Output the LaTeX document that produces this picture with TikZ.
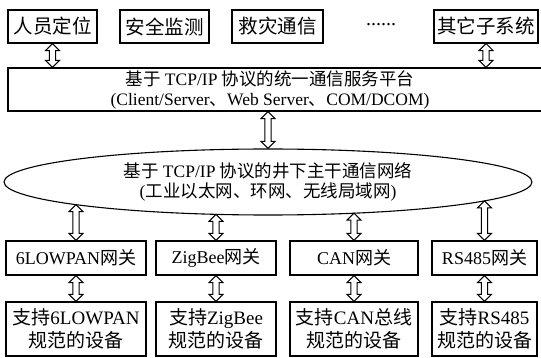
\documentclass[tikz,border=0pt]{standalone}
\usepackage{fontspec}
\setmainfont{Liberation Serif}
\newfontfamily\cjk{Noto Sans CJK SC}
\usetikzlibrary{arrows.meta,shapes.geometric,calc}
\begin{document}
\begin{tikzpicture}[x=1pt,y=-1pt,
  box/.style={draw, line width=1.1pt, inner sep=0pt, align=center},
  topbox/.style={box, minimum height=33pt, font=\fontsize{19.5}{22}\selectfont},
  gwbox/.style={box, minimum height=34pt, font=\fontsize{18}{21}\selectfont},
  devbox/.style={box, minimum height=54pt, font=\fontsize{19}{23}\selectfont},
  bigtext/.style={font=\fontsize{17.5}{20}\selectfont, align=center},
  dbl/.style={draw, line width=1pt, fill=white, line join=miter,
    to path={let \p1=(\tikztostart), \p2=(\tikztotarget) in
      (\x1,\y1) -- (\x1+7pt,\y1-7pt) -- (\x1+3.2pt,\y1-7pt) -- (\x1+3.2pt,\y2+7pt)
      -- (\x1+7pt,\y2+7pt) -- (\x1,\y2) -- (\x1-7pt,\y2+7pt) -- (\x1-3.2pt,\y2+7pt)
      -- (\x1-3.2pt,\y1-7pt) -- (\x1-7pt,\y1-7pt) -- cycle}}]
\useasboundingbox (0,0) rectangle (541,358);
% top row
\node[topbox, minimum width=89pt] (t1) at (52.5,26.5) {\cjk 人员定位};
\node[topbox, minimum width=89pt] (t2) at (164.5,26.5) {\cjk 安全监测};
\node[topbox, minimum width=91pt] (t3) at (277.5,26.5) {\cjk 救灾通信};
\node[font=\fontsize{20}{22}\selectfont] (dots) at (381,25) {......};
\node[topbox, minimum width=104pt] (t5) at (486,26.5) {\cjk 其它子系统};
% platform
\node[box, minimum width=537pt, minimum height=43pt] (plat) at (276.5,89.5) {};
\node[bigtext] (platt) at (270,90)
  {{\cjk 基于} TCP/IP {\cjk 协议的统一通信服务平台}\\(Client/Server{\cjk 、}Web Server{\cjk 、}COM/DCOM)};
% network ellipse
\node[ellipse, draw, line width=1.1pt, inner sep=0pt, minimum width=528pt, minimum height=66pt,
  bigtext] (net) at (268,182)
  {{\cjk 基于} TCP/IP {\cjk 协议的井下主干通信网络}\\({\cjk 工业以太网、环网、无线局域网})};
% gateways
\node[gwbox, minimum width=140pt] (g1) at (76,258) {6LOWPAN{\cjk 网关}};
\node[gwbox, minimum width=120pt] (g2) at (216,258) {ZigBee{\cjk 网关}};
\node[gwbox, minimum width=128pt] (g3) at (354,258) {CAN{\cjk 网关}};
\node[gwbox, minimum width=105pt] (g4) at (484.5,258) {RS485{\cjk 网关}};
% devices
\node[devbox, minimum width=140pt] (d1) at (76,329) {{\cjk 支持}6LOWPAN\\{\cjk 规范的设备}};
\node[devbox, minimum width=120pt] (d2) at (216,329) {{\cjk 支持}ZigBee\\{\cjk 规范的设备}};
\node[devbox, minimum width=128pt] (d3) at (354,329) {{\cjk 支持}CAN{\cjk 总线}\\{\cjk 规范的设备}};
\node[devbox, minimum width=105pt] (d4) at (484.5,329) {{\cjk 支持}RS485\\{\cjk 规范的设备}};
% ellipse boundary points
\coordinate (e1) at (76,204.6);
\coordinate (e2) at (216,214.4);
\coordinate (e3) at (354,213.2);
\coordinate (e4) at (484.5,200.9);
% arrows
\path[dbl] (t1.south) to (t1.south |- plat.north);
\path[dbl] (t5.south) to (t5.south |- plat.north);
\path[dbl] (plat.south -| net.north) to (net.north);
\path[dbl] (e1) to (g1.north);
\path[dbl] (e2) to (g2.north);
\path[dbl] (e3) to (g3.north);
\path[dbl] (e4) to (g4.north);
\path[dbl] (g1.south) to (d1.north);
\path[dbl] (g2.south) to (d2.north);
\path[dbl] (g3.south) to (d3.north);
\path[dbl] (g4.south) to (d4.north);
\end{tikzpicture}
\end{document}
